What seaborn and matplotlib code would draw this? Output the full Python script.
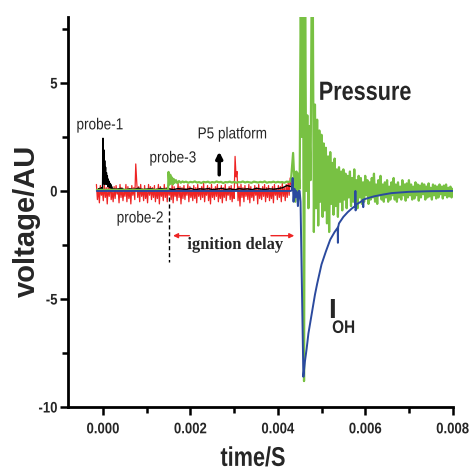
import numpy as np
import pandas as pd
import matplotlib
matplotlib.use("Agg")
import matplotlib.pyplot as plt
import seaborn as sns
from matplotlib.ticker import MultipleLocator
from matplotlib import patheffects
from matplotlib.transforms import Affine2D

# ------------------ DATA ------------------
# probe-2 (red): uniform sampling
probe2_t0, probe2_dt = -0.00015, 0.0000225
probe2_v = [0.3, -0.4, 0.1, -0.55, 0.25, -0.2, 0.05, -0.45, 0.3, -0.3,
            0.15, -0.6, 0.2, -0.25, 0.35, -0.4, 0.0, -0.5, 0.2, -0.35,
            0.25, -0.15, 0.1, -0.55, 0.3, -0.3, 0.15, -0.45, 0.05, -0.25,
            0.3, -0.5, 0.2, -0.35, 0.1, -0.6, 0.25, -0.2, 0.15, -0.4,
            1.25, 0.4, -0.3, 0.2, -0.5, 0.3, -0.25, 0.1, -0.45, 0.25,
            -0.35, 0.05, -0.55, 0.3, -0.2, 0.2, -0.4, 0.15, -0.3, 0.25,
            -0.5, 0.1, -0.35, 0.3, -0.6, 0.2, -0.25, 0.05, -0.45, 0.3,
            -0.3, 0.15, -0.5, 0.25, -0.2, 0.1, -0.4, 0.3, -0.55, 0.2,
            -0.25, 0.05, -0.45, 0.35, -0.3, 0.2, -0.6, 0.15, -0.35, 0.25,
            -0.4, 0.1, -0.2, 0.3, -0.5, 0.2, -0.3, 0.05, -0.45, 0.25,
            -0.35, 0.15, -0.55, 0.3, -0.25, 0.1, -0.4, 0.2, -0.3, 0.35,
            -0.5, 0.05, -0.2, 0.25, -0.45, 0.15, -0.6, 0.3, -0.3, 0.1,
            -0.4, 0.2, -0.25, 0.3, -0.5, 0.1, -0.35, 0.25, -0.55, 0.15,
            -0.3, 0.3, -0.45, 0.05, -0.2, 0.2, -0.4, 0.25, -0.5, 0.1,
            -0.35, 1.6, 0.65, 0.9, -0.45, 0.2, -0.7, 0.3, -0.3, 0.15,
            -0.5, 0.25, -0.25, 0.1, -0.4, 0.3, -0.55, 0.2, -0.3, 0.05,
            -0.45, 0.25, -0.2, 0.15, -0.6, 0.3, -0.35, 0.1, -0.4, 0.2,
            -0.25, 0.3, -0.5, 0.15, -0.3, 0.25, -0.45, 0.05, -0.35, 0.2,
            -0.55, 0.3, -0.2, 0.1, -0.4, 0.25, -0.3, 0.2, -0.5, 0.35,
            -0.25, 0.15, -0.45, 0.3, -0.3, 0.4, -0.2, 0.6, 0.3, 0.2]

# probe-1 (black): spike segment + slow segment
probe1_spike_t0, probe1_spike_dt = -0.0001, 0.00001
probe1_spike_v = [0.1, 0.05, 0.12, 0.03, 0.1, 0.06, 0.15, 0.04, 0.08, 0.1,
                  2.44, 0.5, 1.9, 0.3, 1.4, 0.6, 1.1, 0.3, 0.85, 0.4,
                  0.7, 0.2, 0.55, 0.3, 0.45, 0.15, 0.35, 0.2, 0.3, 0.1, 0.2]
probe1_tail_t0, probe1_tail_dt = 0.00021, 0.0001
probe1_tail_v = [0.1, 0.08, 0.12, 0.05, 0.1, 0.07, 0.13, 0.06, 0.09, 0.1,
                 0.05, 0.12, 0.08, 0.1, 0.06, 0.11, 0.09, 0.07, 0.12, 0.05,
                 0.1, 0.08, 0.11, 0.06, 0.09, 0.12, 0.07, 0.1, 0.05, 0.11,
                 0.08, 0.1, 0.06, 0.12, 0.09, 0.07, 0.1, 0.08, 0.11, 0.15, 0.25, 0.2]

# Pressure (green)
pressure_rise_t = [-0.00014, 0.00149, 0.0015, 0.00152, 0.00154, 0.00156, 0.00158,
                   0.0016, 0.00162, 0.00164, 0.00167, 0.0017, 0.00174, 0.00178, 0.00182]
pressure_rise_v = [0.05, 0.05, 0.88, 0.3, 0.75, 0.35, 0.62, 0.3, 0.55, 0.38,
                   0.5, 0.36, 0.46, 0.38, 0.44]
pressure_plateau_t0, pressure_plateau_dt = 0.00185, 0.00005
pressure_plateau_v = [0.4, 0.43, 0.38, 0.42, 0.4, 0.44, 0.39, 0.41, 0.37, 0.42,
                      0.4, 0.43, 0.38, 0.41, 0.39, 0.44, 0.4, 0.42, 0.37, 0.41,
                      0.4, 0.43, 0.39, 0.42, 0.38, 0.41, 0.4, 0.44, 0.39, 0.42,
                      0.4, 0.38, 0.43, 0.41, 0.39, 0.42, 0.4, 0.44, 0.38, 0.41,
                      0.4, 0.43, 0.39, 0.42, 0.4, 0.41, 0.38, 0.43, 0.42, 0.45, 1.76]
pressure_post_t0, pressure_post_dt = 0.0044, 0.000025
pressure_post_v = [-0.5, 0.9, -0.2, 0.8, 0.1, 9.5, 2.5, 9.5, -8.8, 9.5,
                   0.0, 3.5, -0.8, 3.0, 0.5, 9.5, 9.5, -1.9, 4.0, -0.8,
                   3.3, -1.6, 2.8, -0.5, 2.6, -1.2, 2.2, -0.9, 2.0, -1.5,
                   1.6, -1.9, 1.8, -0.6, 1.3, -1.1, 1.5, -0.7, 1.0, -1.2,
                   1.1, -0.5, 0.9, -0.9, 1.0, -0.4, 0.8, -0.8, 0.7, -0.3,
                   0.9, -0.7, 0.6, -0.5, 1.0, -0.6, 0.5, -0.8, 0.7, -0.3,
                   0.6, -0.6, 0.4, -0.5, 0.7, -0.2, 0.5, -0.6, 0.4, -0.4,
                   0.6, -0.3, 0.8, -0.5, 0.3, -0.6, 0.5, -0.2, 0.7, -0.4,
                   0.3, -0.5, 0.4, -0.3, 0.5, -0.5, 0.2, -0.4, 0.4, -0.2,
                   0.6, -0.4, 0.3, -0.5, 0.4, -0.3, 0.2, -0.4, 0.5, -0.2,
                   0.3, -0.45, 0.35, -0.3, 0.5, -0.2, 0.3, -0.4, 0.2, -0.35,
                   0.4, -0.2, 0.3, -0.45, 0.25, -0.3, 0.35, -0.15, 0.3, -0.4,
                   0.2, -0.3, 0.35, -0.25, 0.15, -0.4, 0.3, -0.2, 0.25, -0.35,
                   0.2, -0.3, 0.3, -0.15, 0.2, -0.35, 0.25, -0.2, 0.3, -0.3,
                   0.15, -0.25, 0.2, -0.3, 0.1]

# I_OH (blue)
ioh_t = [-0.00014, 0.0043, 0.00432, 0.00434, 0.00436, 0.00438, 0.0044, 0.00442,
         0.00444, 0.00446, 0.00448, 0.0045, 0.00452, 0.004585, 0.0046, 0.00462,
         0.00466, 0.0047, 0.00475, 0.0048, 0.00485, 0.0049, 0.00495, 0.005,
         0.0051, 0.0052, 0.0053, 0.00537, 0.005375, 0.00538, 0.0054, 0.0055,
         0.0056, 0.0057, 0.00577, 0.005775, 0.00578, 0.0058, 0.0059, 0.00595,
         0.005955, 0.00596, 0.006, 0.0062, 0.0064, 0.0066, 0.0068, 0.007,
         0.0075, 0.008]
ioh_v = [0.0, 0.0, 0.05, 0.6, -0.5, 0.1, -0.3, 0.0, -0.1, -0.7, 0.0, 0.0,
         -0.5, -8.6, -8.3, -7.9, -7.3, -6.6, -6.0, -5.4, -4.8, -4.3, -3.85,
         -3.4, -2.8, -2.25, -1.9, -1.7, -2.4, -1.68, -1.5, -1.2, -0.98, -0.8,
         -0.7, 0.0, -0.9, -0.62, -0.5, -0.42, -0.75, -0.4, -0.37, -0.25,
         -0.17, -0.1, -0.07, -0.04, -0.01, 0.0]

# probe-2 trigger marker (dashed)
trigger_t = [0.00152, 0.00152]
trigger_v = [-0.28, -3.3]


def uniform(t0, dt, vals):
    return pd.DataFrame({"t": t0 + dt * np.arange(len(vals)), "v": vals})


df_probe2 = uniform(probe2_t0, probe2_dt, probe2_v)
df_probe1 = pd.concat([uniform(probe1_spike_t0, probe1_spike_dt, probe1_spike_v),
                       uniform(probe1_tail_t0, probe1_tail_dt, probe1_tail_v)])
df_press = pd.concat([pd.DataFrame({"t": pressure_rise_t, "v": pressure_rise_v}),
                      uniform(pressure_plateau_t0, pressure_plateau_dt, pressure_plateau_v),
                      uniform(pressure_post_t0, pressure_post_dt, pressure_post_v)])
df_ioh = pd.DataFrame({"t": ioh_t, "v": ioh_v})


# the original uses a narrow Arial-like face: squeeze the glyphs horizontally
class Squeeze(patheffects.AbstractPathEffect):
    def __init__(self, sx=0.85, anchor="left"):
        super().__init__()
        self.sx, self.anchor = sx, anchor

    def draw_path(self, renderer, gc, tpath, affine, rgbFace=None):
        ext = tpath.get_extents()
        x0 = {"left": ext.x0, "center": (ext.x0 + ext.x1) / 2, "right": ext.x1}[self.anchor]
        squeeze = Affine2D().translate(-x0, 0).scale(self.sx, 1).translate(x0, 0)
        renderer.draw_path(gc, tpath, squeeze + affine, rgbFace)


# ------------------ PLOT ------------------
sns.set_theme(style="ticks")
plt.rcParams["font.family"] = ["Liberation Sans", "DejaVu Sans"]

RED, GREEN, BLUE = "#ee2424", "#78c143", "#2b4a9e"

fig = plt.figure(figsize=(4.71, 4.73), dpi=100)
ax = fig.add_axes([0.1444, 0.1395, 0.8166, 0.8245])

kw = dict(x="t", y="v", estimator=None, sort=False, ax=ax)
sns.lineplot(data=df_probe2, color=RED, lw=0.9, **kw)
sns.lineplot(data=df_probe1, color="black", lw=1.0, **kw)
sns.lineplot(data=df_press, color=GREEN, lw=1.6, **kw)
sns.lineplot(data=df_ioh, color=BLUE, lw=1.4, **kw)
ax.plot(trigger_t, trigger_v, color="black", lw=1.0, ls=(0, (3, 2)))

ax.set_xlim(-0.0008, 0.008)
ax.set_ylim(-10, 8.05)
ax.xaxis.set_major_locator(MultipleLocator(0.002))
ax.xaxis.set_minor_locator(MultipleLocator(0.001))
ax.yaxis.set_major_locator(MultipleLocator(5))
ax.yaxis.set_minor_locator(MultipleLocator(2.5))
ax.xaxis.set_major_formatter(plt.FuncFormatter(lambda v, p: f"{v:.3f}"))
ax.yaxis.set_major_formatter(plt.FuncFormatter(lambda v, p: f"{v:.0f}"))

sns.despine(ax=ax)
for s in ("left", "bottom"):
    ax.spines[s].set_linewidth(2)
    ax.spines[s].set_color("black")
ax.tick_params(which="major", length=6, width=1.8, color="black", labelsize=11)
ax.tick_params(which="minor", length=4, width=1.8, color="black")
ax.tick_params(axis="x", which="major", pad=5)
ax.tick_params(axis="y", which="major", pad=1.5)
for lab in ax.get_xticklabels():
    lab.set_fontweight("bold")
    lab.set_path_effects([Squeeze(0.86, "center")])
for lab in ax.get_yticklabels():
    lab.set_fontweight("bold")
    lab.set_path_effects([Squeeze(0.86, "right")])

ax.set_xlabel("time/S", fontsize=19.5, fontweight="bold",
              path_effects=[Squeeze(0.8, "center")])
ax.set_ylabel("voltage/AU", fontsize=21, fontweight="bold")
ax.xaxis.set_label_coords(0.481, -0.133)
ax.yaxis.set_label_coords(-0.107, 0.477)
ax.xaxis.label.set_verticalalignment("center")
ax.yaxis.label.set_verticalalignment("center")

# annotations
small = dict(fontsize=11.5, va="center", ha="left", path_effects=[Squeeze(0.85)])
ax.text(-0.00061, 3.06, "probe-1", **small)
ax.text(0.00106, 1.53, "probe-3", **small)
ax.text(0.00216, 2.64, "P5 platform", **small)
ax.text(0.00031, -1.25, "probe-2", **small)
ax.text(0.00193, -2.5, "ignition delay", fontsize=12.5, fontweight="bold",
        family=["Liberation Serif", "DejaVu Serif"], va="center", ha="left",
        path_effects=[Squeeze(0.95)])
ax.text(0.00493, 4.54, "Pressure", fontsize=19, fontweight="bold", va="center", ha="left",
        path_effects=[Squeeze(0.82)])
ax.text(0.00515, -5.88, "I", fontsize=20, fontweight="bold", va="baseline", ha="left")
ax.text(0.00524, -6.57, "OH", fontsize=13, fontweight="bold", va="baseline", ha="left",
        path_effects=[Squeeze(0.85)])

ax.annotate("", xy=(0.00266, 1.95), xytext=(0.00266, 0.62),
            arrowprops=dict(arrowstyle="-|>", color="black", lw=2.5, mutation_scale=9))
ax.annotate("", xy=(0.00154, -2.07), xytext=(0.00204, -2.07),
            arrowprops=dict(arrowstyle="-|>", color=RED, lw=1.0, mutation_scale=7))
ax.annotate("", xy=(0.00444, -2.07), xytext=(0.00378, -2.07),
            arrowprops=dict(arrowstyle="-|>", color=RED, lw=1.0, mutation_scale=7))

fig.savefig("out.png", dpi=100)
